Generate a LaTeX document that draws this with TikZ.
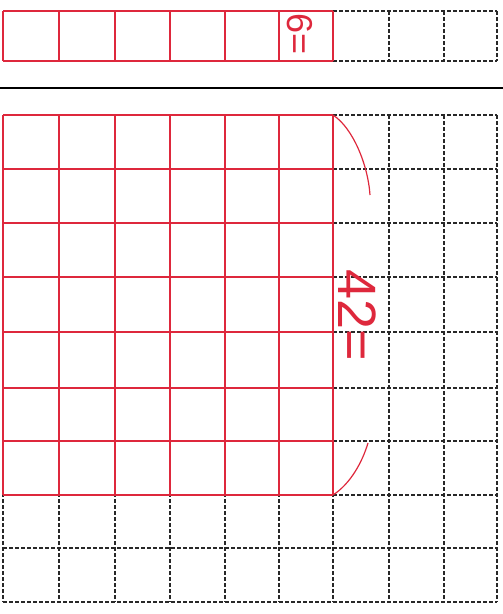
\documentclass[tikz,border=0pt]{standalone}
\usepackage{fontspec}
\setmainfont{Liberation Sans}
\definecolor{pen}{RGB}{222,40,60}
\definecolor{gridgray}{RGB}{40,40,40}
\begin{document}
\begin{tikzpicture}[x=1pt,y=-1pt,
  dashgrid/.style={draw=gridgray, dash pattern=on 4pt off 2pt, line width=1.1pt},
  redgrid/.style={draw=pen, line width=1.3pt},
  penline/.style={draw=pen, line width=1.2pt},
  pentext/.style={text=pen, rotate=-90, inner sep=0pt}]
\useasboundingbox (0,0) rectangle (503,614);
% ---- top strip ----
\foreach \x in {3,59,115,170,225,279,333,389,444,497}
  \draw[dashgrid] (\x,11) -- (\x,61);
\foreach \y in {11,61}
  \draw[dashgrid] (3,\y) -- (497,\y);
\foreach \x in {3,59,115,170,225,279,333}
  \draw[redgrid] (\x,11) -- (\x,61);
\foreach \y in {11,61}
  \draw[redgrid] (3,\y) -- (333,\y);
\node[pentext, font=\fontsize{36}{36}\selectfont] (t6) at (300,34) {6=};
% ---- separator ----
\draw[line width=1.6pt, black] (0,88) -- (503,88);
% ---- big grid ----
\foreach \x in {3,59,115,170,225,279,333,389,444,497}
  \draw[dashgrid] (\x,115) -- (\x,602);
\foreach \y in {115,169,223,277,332,388,441,495,548,602}
  \draw[dashgrid] (3,\y) -- (497,\y);
\foreach \x in {3,59,115,170,225,279,333}
  \draw[redgrid] (\x,115) -- (\x,495);
\foreach \y in {115,169,223,277,332,388,441,495}
  \draw[redgrid] (3,\y) -- (333,\y);
\coordinate (tl) at (333,115);
\coordinate (bl) at (333,495);
\coordinate (te) at (370,195);
\coordinate (be) at (368,443);
\draw[penline] (tl) .. controls (353,128) and (368,165) .. (te);
\draw[penline] (bl) .. controls (350,484) and (362,463) .. (be);
\node[pentext, font=\fontsize{54}{54}\selectfont] (t42) at (357,315) {42=};
\end{tikzpicture}
\end{document}
